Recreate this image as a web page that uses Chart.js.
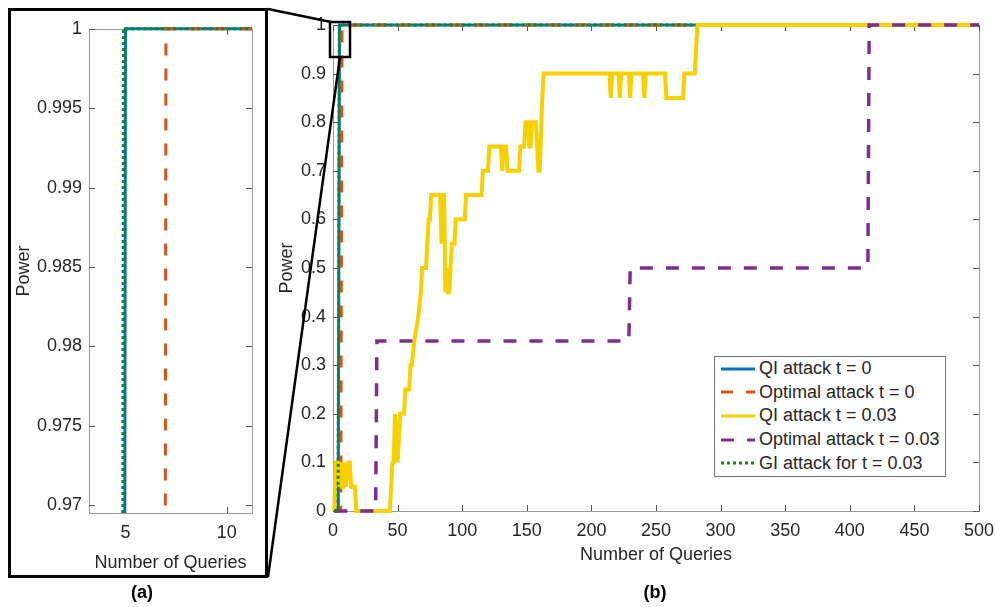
<!DOCTYPE html>
<html>
<head>
<meta charset="utf-8">
<script src="https://cdn.jsdelivr.net/npm/chart.js@4.4.1/dist/chart.umd.min.js"></script>
<style>
    body { margin: 0; background: #fff; font-family: "Liberation Sans", Arial, sans-serif; }
    #page { position: relative; width: 995px; height: 607px; overflow: hidden; }
    .abs { position: absolute; }
    #insetBox { left: 8px; top: 8px; width: 254px; height: 564px; border: 3px solid #000; }
    #legend { left: 714px; top: 356px; width: 230px; height: 119px; border: 1px solid #777; background: #fff; }
    .row { display: flex; align-items: center; height: 23.6px; }
    .row svg { margin-left: 6px; margin-right: 4px; }
    .row span { font-size: 18px; color: #262626; white-space: nowrap; }
    .cap { font-size: 18px; font-weight: bold; color: #000; width: 60px; text-align: center; }
</style>
</head>
<body>
<div id="page">
    <div id="insetBox" class="abs"></div>
    <canvas id="insetChart" class="abs" style="left:11px; top:11px;" width="254" height="564"></canvas>
    <canvas id="mainChart" class="abs" style="left:270px; top:0;" width="725" height="607"></canvas>
    <svg class="abs" style="left:0; top:0; pointer-events:none;" width="995" height="607">
        <line x1="268" y1="9" x2="331" y2="22" stroke="#000" stroke-width="2.5"/>
        <line x1="268" y1="577" x2="340" y2="57" stroke="#000" stroke-width="2.5"/>
        <rect x="330" y="22" width="20" height="35" fill="none" stroke="#000" stroke-width="2.5"/>
    </svg>
    <div id="legend" class="abs"></div>
    <div class="cap abs" style="left:112px; top:582px;">(a)</div>
    <div class="cap abs" style="left:625px; top:582px;">(b)</div>
</div>

<script>
// series names
const seriesNames = ["QI attack t = 0", "Optimal attack t = 0", "QI attack t = 0.03", "Optimal attack t = 0.03", "GI attack for t = 0.03"];

// QI attack t = 0
const qi0X = [1, 4, 5, 281];
const qi0Y = [0, 0, 1, 1];

// Optimal attack t = 0
const opt0X = [1, 6, 7, 281];
const opt0Y = [0, 0, 1, 1];

// QI attack t = 0.03
const qi03X = [1, 2, 4, 5, 6, 7, 8, 9, 10, 12, 13, 14, 17, 18, 44, 46, 47, 48, 49, 50,
    51, 52, 55, 56, 59, 60, 61, 63, 66, 68, 69, 72, 73, 74, 75, 76, 83, 84, 85, 86,
    87, 88, 89, 90, 91, 92, 94, 95, 102, 103, 115, 116, 120, 121, 130, 131, 132, 134, 135, 144,
    145, 148, 149, 151, 152, 153, 154, 157, 158, 159, 160, 162, 163, 214, 215, 216, 221, 222, 223, 229,
    230, 231, 240, 241, 242, 257, 258, 271, 272, 280, 282, 500];
const qi03Y = [0, 0.1, 0.1, 0.05, 0.1, 0.05, 0.05, 0.1, 0.05, 0.1, 0.1, 0.05, 0.05, 0, 0, 0.1, 0.1, 0.2, 0.15, 0.1,
    0.15, 0.2, 0.2, 0.25, 0.25, 0.3, 0.3, 0.35, 0.4, 0.45, 0.5, 0.5, 0.55, 0.6, 0.6, 0.65, 0.65, 0.55, 0.65, 0.65,
    0.45, 0.5, 0.45, 0.45, 0.5, 0.55, 0.55, 0.6, 0.6, 0.65, 0.65, 0.7, 0.7, 0.75, 0.75, 0.7, 0.75, 0.75, 0.7, 0.7,
    0.75, 0.75, 0.8, 0.8, 0.75, 0.75, 0.8, 0.8, 0.75, 0.7, 0.7, 0.85, 0.9, 0.9, 0.85, 0.9, 0.9, 0.85, 0.9, 0.9,
    0.85, 0.9, 0.9, 0.85, 0.9, 0.9, 0.85, 0.85, 0.9, 0.9, 1, 1];

// Optimal attack t = 0.03
const opt03X = [1, 33, 34, 229, 230, 414, 415, 500];
const opt03Y = [0, 0, 0.35, 0.35, 0.5, 0.5, 1, 1];

// GI attack for t = 0.03
const gi03X = [1, 3.9, 4.9, 281];
const gi03Y = [0, 0, 1, 1];

// ticks
const mainXTicks = [0, 50, 100, 150, 200, 250, 300, 350, 400, 450, 500];
const mainYTicks = [0, 0.1, 0.2, 0.3, 0.4, 0.5, 0.6, 0.7, 0.8, 0.9, 1];
const mainYLabels = ["0", "0.1", "0.2", "0.3", "0.4", "0.5", "0.6", "0.7", "0.8", "0.9", "1"];
const insetXTicks = [5, 10];
const insetYTicks = [0.97, 0.975, 0.98, 0.985, 0.99, 0.995, 1];
const insetYLabels = ["0.97", "0.975", "0.98", "0.985", "0.99", "0.995", "1"];

const colors = ["#0072BD", "#D95319", "#F7D000", "#7E2F8E", "#138A13"];
const dashes = [[], [12, 13], [], [13, 13], [3, 3]];
const widths = [3, 3, 4, 3.5, 3];
const drawOrder = [5, 4, 3, 2, 1];

function toPoints(xs, ys) {
    return xs.map((x, i) => ({ x: x, y: ys[i] }));
}

const allX = [qi0X, opt0X, qi03X, opt03X, gi03X];
const allY = [qi0Y, opt0Y, qi03Y, opt03Y, gi03Y];

function makeDatasets(clip) {
    return seriesNames.map((name, i) => ({
        label: name,
        data: toPoints(allX[i], allY[i]),
        borderColor: colors[i],
        borderWidth: widths[i],
        borderDash: dashes[i],
        borderCapStyle: "butt",
        borderJoinStyle: "miter",
        pointRadius: 0,
        tension: 0,
        fill: false,
        clip: clip,
        order: drawOrder[i]
    }));
}

// box around plot area with inward ticks on all four sides
const boxPlugin = {
    id: "boxTicks",
    beforeDatasetsDraw(chart) {
        const ctx = chart.ctx;
        const a = chart.chartArea;
        const xs = chart.scales.x, ys = chart.scales.y;
        ctx.save();
        ctx.strokeStyle = "#9a9a9a";
        ctx.lineWidth = 1;
        ctx.strokeRect(Math.round(a.left) + 0.5, Math.round(a.top) + 0.5, Math.round(a.right - a.left), Math.round(a.bottom - a.top));
        ctx.strokeStyle = "#555";
        ctx.beginPath();
        xs.ticks.forEach(t => {
            const px = Math.round(xs.getPixelForValue(t.value)) + 0.5;
            ctx.moveTo(px, a.bottom); ctx.lineTo(px, a.bottom - 6);
            ctx.moveTo(px, a.top); ctx.lineTo(px, a.top + 6);
        });
        ys.ticks.forEach(t => {
            const py = Math.round(ys.getPixelForValue(t.value)) + 0.5;
            ctx.moveTo(a.left, py); ctx.lineTo(a.left + 6, py);
            ctx.moveTo(a.right, py); ctx.lineTo(a.right - 6, py);
        });
        ctx.stroke();
        ctx.restore();
    }
};

const tickFont = { family: "'Liberation Sans', Arial, sans-serif", size: 18 };
const textColor = "#262626";

function makeChart(id, cfg) {
    return new Chart(document.getElementById(id), {
        type: "line",
        data: { datasets: makeDatasets(cfg.clip) },
        plugins: [boxPlugin],
        options: {
            responsive: false,
            animation: false,
            layout: { padding: cfg.padding },
            plugins: { legend: { display: false }, tooltip: { enabled: false } },
            scales: {
                x: {
                    type: "linear",
                    min: cfg.xMin, max: cfg.xMax,
                    grid: { display: false, drawTicks: false },
                    border: { display: false },
                    afterBuildTicks: s => { s.ticks = cfg.xTicks.map(v => ({ value: v })); },
                    afterFit: s => { s.height = cfg.xHeight; s.paddingLeft = 0; s.paddingRight = 0; },
                    ticks: { font: tickFont, color: textColor, padding: 9, maxRotation: 0 },
                    title: { display: true, text: "Number of Queries", font: tickFont, color: textColor, padding: { top: 0, bottom: cfg.xTitlePad } }
                },
                y: {
                    type: "linear",
                    min: cfg.yMin, max: cfg.yMax,
                    grid: { display: false, drawTicks: false },
                    border: { display: false },
                    afterBuildTicks: s => { s.ticks = cfg.yTicks.map(v => ({ value: v })); },
                    afterFit: s => { s.width = cfg.yWidth; },
                    ticks: { font: tickFont, color: textColor, padding: 7, callback: (v, i) => cfg.yLabels[i] },
                    title: { display: true, text: "Power", font: tickFont, color: textColor, padding: { top: cfg.yTitlePad, bottom: 0 } }
                }
            }
        }
    });
}

makeChart("mainChart", {
    padding: { top: 25, right: 16, left: 0, bottom: 0 },
    xMin: 0, xMax: 500, yMin: 0, yMax: 1,
    xTicks: mainXTicks, yTicks: mainYTicks, yLabels: mainYLabels,
    xHeight: 96, yWidth: 63, xTitlePad: 41, yTitlePad: 6,
    clip: { left: 3, top: 3, right: 3, bottom: 3 }
});

makeChart("insetChart", {
    padding: { top: 16, right: 13, left: 0, bottom: 0 },
    xMin: 3.2, xMax: 11.25, yMin: 0.9695, yMax: 1,
    xTicks: insetXTicks, yTicks: insetYTicks, yLabels: insetYLabels,
    xHeight: 62, yWidth: 78, xTitlePad: 1, yTitlePad: 2,
    clip: { left: 0, top: 3, right: 0, bottom: 0 }
});

// legend built from the same series settings
const legend = document.getElementById("legend");
seriesNames.forEach((name, i) => {
    const row = document.createElement("div");
    row.className = "row";
    row.innerHTML = `<svg width="34" height="8"><line x1="0" y1="4" x2="34" y2="4" stroke="${colors[i]}" stroke-width="3" stroke-dasharray="${dashes[i].join(",") || "none"}"/></svg><span>${name}</span>`;
    legend.appendChild(row);
});
</script>
</body>
</html>
